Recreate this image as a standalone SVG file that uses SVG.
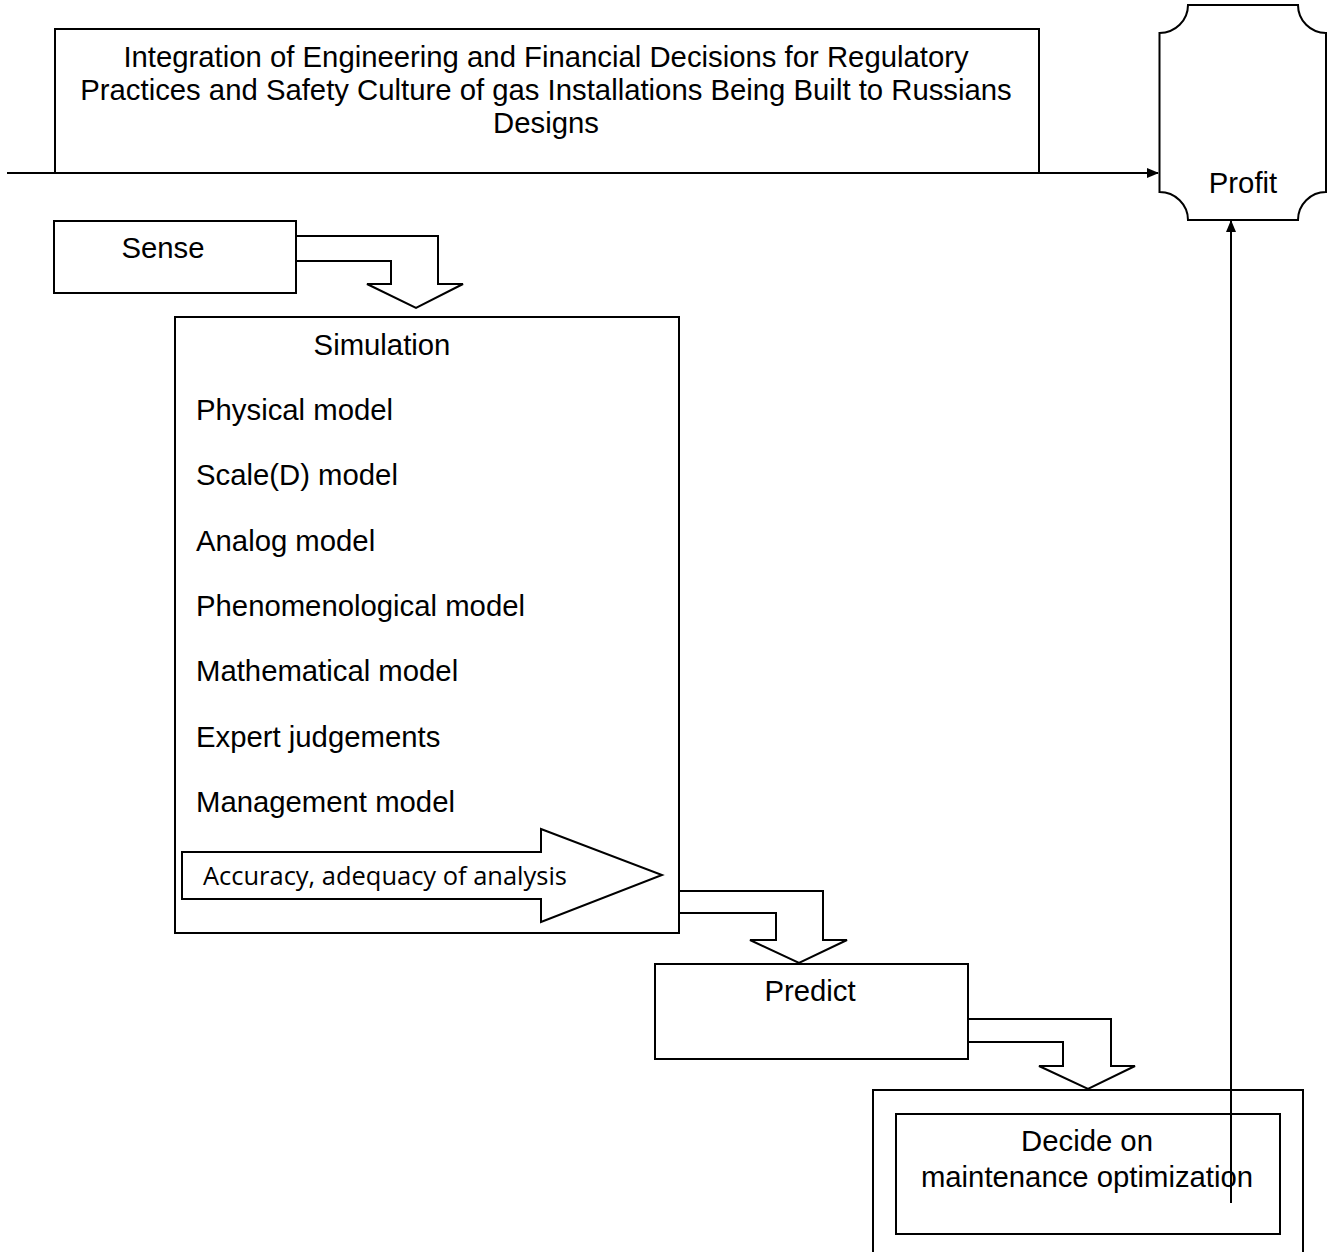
<svg xmlns="http://www.w3.org/2000/svg" width="1329" height="1252" viewBox="0 0 1329 1252">
<style>
.s{fill:none;stroke:#000;stroke-width:2}
.w{fill:#fff;stroke:#000;stroke-width:2}
.t{font-family:"Liberation Sans",Arial,sans-serif;font-size:29.3px;fill:#000}
.c{text-anchor:middle}
.k{font-family:"Open Sans","Noto Sans",sans-serif;font-size:25px;fill:#000}
</style>
<defs>
<marker id="ah" markerWidth="12" markerHeight="10" refX="11" refY="5" orient="auto" markerUnits="userSpaceOnUse">
<path d="M0,0 L12,5 L0,10 Z" fill="#000"/>
</marker>
</defs>
<rect width="1329" height="1252" fill="#fff"/>
<g id="title">
<path class="s" d="M55,173 V29 H1039 V173"/>
<text class="t c" x="546" y="67">Integration of Engineering and Financial Decisions for Regulatory</text>
<text class="t c" x="546" y="100">Practices and Safety Culture of gas Installations Being Built to Russians</text>
<text class="t c" x="546" y="133">Designs</text>
</g>
<g id="profit">
<path class="w" d="M1188,5 H1298 A28,28 0 0 0 1326,33 V192 A28,28 0 0 0 1298,220 H1188 A28.5,28 0 0 0 1159.5,192 V33 A28.5,28 0 0 0 1188,5 Z"/>
<text class="t c" x="1243" y="193">Profit</text>
</g>
<g id="sense">
<rect class="w" x="54" y="221" width="242" height="72"/>
<text class="t c" x="163" y="258">Sense</text>
</g>
<g id="simulation">
<rect class="w" x="175" y="317" width="504" height="616"/>
<text class="t c" x="382" y="355">Simulation</text>
<text class="t" x="196" y="420">Physical model</text>
<text class="t" x="196" y="485">Scale(D) model</text>
<text class="t" x="196" y="551">Analog model</text>
<text class="t" x="196" y="616">Phenomenological model</text>
<text class="t" x="196" y="681">Mathematical model</text>
<text class="t" x="196" y="747">Expert judgements</text>
<text class="t" x="196" y="812">Management model</text>
<path class="w" d="M182,852 H541 V829 L662,875 L541,922 V899 H182 Z"/>
<text class="k" x="203" y="885" textLength="364" lengthAdjust="spacingAndGlyphs">Accuracy, adequacy of analysis</text>
</g>
<g id="predict">
<rect class="w" x="655" y="964" width="313" height="95"/>
<text class="t c" x="810" y="1001">Predict</text>
</g>
<g id="decide">
<path class="s" d="M873,1252 V1090 H1303 V1252"/>
<rect class="w" x="896" y="1114" width="384" height="120"/>
<text class="t c" x="1087" y="1151">Decide on</text>
<text class="t c" x="1087" y="1187">maintenance optimization</text>
</g>
<g id="connectors">
<path class="s" d="M7,173 H1158" marker-end="url(#ah)"/>
<path class="s" d="M296,236 H438 V284 H463 L416,308 L367,284 H391 V261 H296"/>
<path class="s" d="M679,891 H823 V940 H847 L799,963 L750,940 H776 V913 H679"/>
<path class="s" d="M968,1019 H1111 V1066 H1135 L1088,1089 L1039,1066 H1063 V1042 H968"/>
<path class="s" d="M1231,1203 V221" marker-end="url(#ah)"/>
</g>
</svg>
